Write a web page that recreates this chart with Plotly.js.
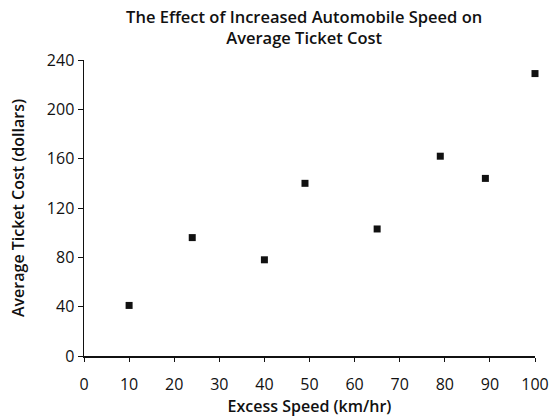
<!DOCTYPE html>
<html>
<head>
<meta charset="utf-8">
<script src="https://cdn.plot.ly/plotly-3.0.1.min.js"></script>
<style>html,body{margin:0;padding:0;background:#fff;}#chart{width:550px;height:419px;}</style>
</head>
<body>
<div id="chart"></div>
<script>
var excessSpeed = [10, 24, 40, 49, 65, 79, 89, 100];
var ticketCost = [41, 96, 78, 140, 103, 162, 144, 229];
var xTicks = [0, 10, 20, 30, 40, 50, 60, 70, 80, 90, 100];
var yTicks = [0, 40, 80, 120, 160, 200, 240];

var font = "'Open Sans', 'Noto Sans', sans-serif";

var trace = {
  type: 'scatter',
  mode: 'markers',
  x: excessSpeed,
  y: ticketCost,
  marker: {symbol: 'square', size: 7, color: '#111'},
  cliponaxis: false,
  showlegend: false
};

var layout = {
  width: 550, height: 419,
  margin: {l: 84, r: 15, t: 60, b: 63},
  paper_bgcolor: '#fff', plot_bgcolor: '#fff',
  font: {family: font, color: '#111', size: 15},
  title: {
    text: 'The Effect of Increased Automobile Speed on<br>Average Ticket Cost',
    x: 0.553, xanchor: 'center', yref: 'container', y: 0.945, yanchor: 'middle',
    font: {family: font, size: 16.5, color: '#111', weight: 600}
  },
  xaxis: {
    range: [0, 100], tickvals: xTicks, ticktext: xTicks.map(String),
    showgrid: false, zeroline: false, showline: true, linecolor: '#111', linewidth: 1.5,
    ticks: 'outside', ticklen: 4, tickcolor: '#111', ticklabelstandoff: 9,
    tickfont: {size: 16, color: '#111'},
    title: {text: 'Excess Speed (km/hr)', standoff: 0, font: {size: 16, color: '#111', weight: 600}}
  },
  yaxis: {
    range: [0, 240], tickvals: yTicks, ticktext: yTicks.map(String),
    showgrid: false, zeroline: false, showline: true, linecolor: '#111', linewidth: 1.5,
    ticks: 'outside', ticklen: 5, tickcolor: '#111',
    tickfont: {size: 16, color: '#111'},
    title: {text: 'Average Ticket Cost (dollars)', standoff: 18, font: {size: 16, color: '#111', weight: 600}}
  }
};

Plotly.newPlot('chart', [trace], layout, {staticPlot: true, displayModeBar: false});
</script>
</body>
</html>
